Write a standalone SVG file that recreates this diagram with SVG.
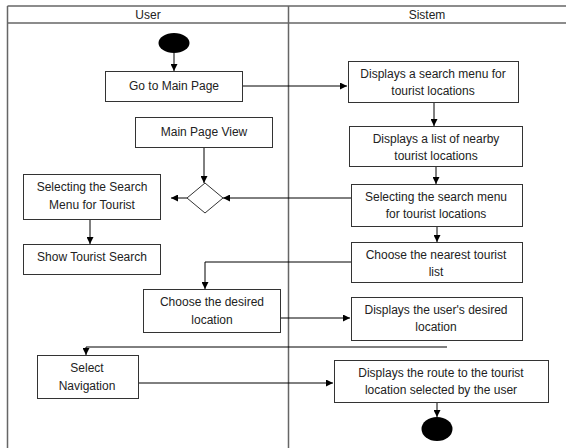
<svg xmlns="http://www.w3.org/2000/svg" width="566" height="448" viewBox="0 0 566 448">
<defs>
<marker id="ah" viewBox="0 0 10 10" refX="10" refY="5" markerWidth="7" markerHeight="7" orient="auto" markerUnits="userSpaceOnUse">
<path d="M0,0 L10,5 L0,10 z" fill="#000"/>
</marker>
<style>
.box{fill:#fff;stroke:#333;stroke-width:1}
.t{font-family:"Liberation Sans",Arial,sans-serif;font-size:12px;fill:#222;text-anchor:middle}
.c{fill:none;stroke:#000;stroke-width:1}
.lane{fill:none;stroke:#666;stroke-width:1.5}
</style>
</defs>
<rect width="566" height="448" fill="#fff"/>
<g id="lanes">
<line class="lane" x1="7.5" y1="6" x2="566" y2="6"/>
<line class="lane" x1="7.5" y1="23" x2="566" y2="23"/>
<line class="lane" x1="7.5" y1="6" x2="7.5" y2="448"/>
<line class="lane" x1="288.5" y1="6" x2="288.5" y2="448"/>
<text class="t" x="148" y="19">User</text>
<text class="t" x="427" y="19">Sistem</text>
</g>
<g id="connectors">
<line class="c" x1="174" y1="53" x2="174" y2="71" marker-end="url(#ah)"/>
<line class="c" x1="242" y1="86" x2="347" y2="86" marker-end="url(#ah)"/>
<line class="c" x1="434" y1="102" x2="434" y2="126" marker-end="url(#ah)"/>
<line class="c" x1="436" y1="166" x2="436" y2="184" marker-end="url(#ah)"/>
<line class="c" x1="437" y1="226" x2="437" y2="242" marker-end="url(#ah)"/>
<line class="c" x1="204" y1="147" x2="204" y2="183" marker-end="url(#ah)"/>
<line class="c" x1="351" y1="198" x2="223" y2="198" marker-end="url(#ah)"/>
<line class="c" x1="187" y1="198" x2="171" y2="198" marker-end="url(#ah)"/>
<line class="c" x1="90" y1="219" x2="90" y2="244" marker-end="url(#ah)"/>
<polyline class="c" points="351,262 205,262 205,289" marker-end="url(#ah)"/>
<line class="c" x1="280" y1="318" x2="350" y2="318" marker-end="url(#ah)"/>
<polyline class="c" points="447,347 86,347 86,355" marker-end="url(#ah)"/>
<line class="c" x1="138" y1="383" x2="333" y2="383" marker-end="url(#ah)"/>
<line class="c" x1="437" y1="402" x2="437" y2="417" marker-end="url(#ah)"/>
</g>
<g id="start"><ellipse cx="174" cy="43" rx="15.5" ry="10" fill="#000"/></g>
<g id="n1"><rect class="box" x="105.5" y="71.5" width="137" height="30"/><text class="t" x="174" y="90">Go to Main Page</text></g>
<g id="n2"><rect class="box" x="348.5" y="61.5" width="170" height="41"/><text class="t" x="433" y="78">Displays a search menu for</text><text class="t" x="433" y="95">tourist locations</text></g>
<g id="n3"><rect class="box" x="135.5" y="117.5" width="137" height="30"/><text class="t" x="204" y="136">Main Page View</text></g>
<g id="n4"><rect class="box" x="349.5" y="126.5" width="173" height="40"/><text class="t" x="436" y="143">Displays a list of nearby</text><text class="t" x="436" y="160">tourist locations</text></g>
<g id="d1"><polygon points="205,183 223,198 205,213 187,198" fill="#fff" stroke="#333"/></g>
<g id="n5"><rect class="box" x="23.5" y="174.5" width="137" height="45"/><text class="t" x="92" y="191">Selecting the Search</text><text class="t" x="92" y="209">Menu for Tourist</text></g>
<g id="n6"><rect class="box" x="351.5" y="184.5" width="171" height="42"/><text class="t" x="436" y="201">Selecting the search menu</text><text class="t" x="436" y="218">for tourist locations</text></g>
<g id="n7"><rect class="box" x="23.5" y="244.5" width="137" height="30"/><text class="t" x="92" y="261">Show Tourist Search</text></g>
<g id="n8"><rect class="box" x="351.5" y="242.5" width="171" height="40"/><text class="t" x="436" y="259">Choose the nearest tourist</text><text class="t" x="436" y="276">list</text></g>
<g id="n9"><rect class="box" x="143.5" y="289.5" width="137" height="43"/><text class="t" x="212" y="306">Choose the desired</text><text class="t" x="212" y="324">location</text></g>
<g id="n10"><rect class="box" x="351.5" y="297.5" width="171" height="43"/><text class="t" x="436" y="314">Displays the user's desired</text><text class="t" x="436" y="331">location</text></g>
<g id="n11"><rect class="box" x="37.5" y="355.5" width="101" height="43"/><text class="t" x="87" y="372">Select</text><text class="t" x="87" y="390">Navigation</text></g>
<g id="n12"><rect class="box" x="334.5" y="360.5" width="214" height="42"/><text class="t" x="441" y="377">Displays the route to the tourist</text><text class="t" x="441" y="394">location selected by the user</text></g>
<g id="end"><ellipse cx="437" cy="429" rx="15.5" ry="12" fill="#000"/></g>
</svg>
